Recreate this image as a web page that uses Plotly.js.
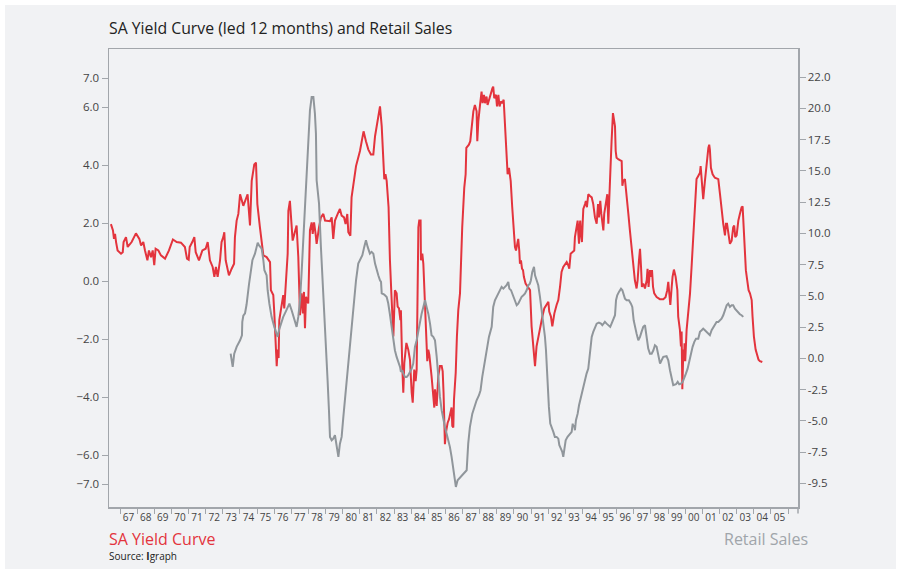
<!DOCTYPE html>
<html><head><meta charset="utf-8">
<script src="https://cdn.plot.ly/plotly-3.0.1.min.js"></script>
<style>
html,body{margin:0;padding:0;background:#ffffff;}
#chart{position:absolute;left:5px;top:5px;width:891px;height:564px;}
</style></head><body><div id="chart"></div>
<script>
// SA Yield Curve (led 12 months), left axis
const yieldYears = [1966.47,1966.59,1966.65,1966.71,1966.77,1966.86,1967.06,1967.16,1967.21,1967.35,1967.45,1967.68,1967.93,1968.13,1968.23,1968.36,1968.46,1968.60,1968.69,1968.81,1968.91,1969.00,1969.08,1969.24,1969.39,1969.63,1969.86,1970.09,1970.31,1970.56,1970.79,1970.91,1971.01,1971.07,1971.22,1971.34,1971.42,1971.61,1971.81,1972.00,1972.12,1972.25,1972.41,1972.51,1972.60,1972.70,1972.84,1972.93,1973.03,1973.09,1973.17,1973.36,1973.52,1973.66,1973.71,1973.81,1973.91,1974.01,1974.20,1974.45,1974.59,1974.69,1974.84,1974.94,1974.98,1975.02,1975.17,1975.27,1975.37,1975.56,1975.76,1975.81,1975.95,1976.01,1976.09,1976.15,1976.20,1976.26,1976.30,1976.44,1976.53,1976.59,1976.69,1976.79,1976.83,1976.92,1977.08,1977.22,1977.31,1977.41,1977.45,1977.51,1977.60,1977.68,1977.74,1977.80,1977.86,1977.99,1978.09,1978.19,1978.25,1978.33,1978.42,1978.48,1978.62,1978.73,1978.87,1978.97,1979.26,1979.36,1979.45,1979.55,1979.71,1979.84,1979.94,1980.08,1980.17,1980.27,1980.33,1980.45,1980.52,1980.66,1980.78,1981.01,1981.15,1981.22,1981.36,1981.50,1981.65,1981.79,1981.89,1982.02,1982.18,1982.28,1982.43,1982.50,1982.57,1982.68,1982.70,1982.76,1982.86,1982.96,1983.05,1983.15,1983.21,1983.29,1983.37,1983.40,1983.48,1983.54,1983.60,1983.68,1983.72,1983.83,1983.93,1984.03,1984.09,1984.18,1984.26,1984.32,1984.38,1984.42,1984.47,1984.55,1984.57,1984.65,1984.71,1984.77,1984.86,1984.94,1985.00,1985.06,1985.19,1985.29,1985.35,1985.39,1985.49,1985.58,1985.68,1985.78,1985.84,1985.89,1985.93,1985.97,1986.03,1986.13,1986.21,1986.30,1986.36,1986.40,1986.46,1986.50,1986.60,1986.67,1986.75,1986.85,1986.91,1986.98,1987.10,1987.18,1987.22,1987.37,1987.45,1987.53,1987.63,1987.72,1987.82,1987.86,1987.92,1988.02,1988.11,1988.17,1988.25,1988.31,1988.40,1988.46,1988.54,1988.66,1988.74,1988.79,1988.85,1988.95,1989.01,1989.09,1989.16,1989.24,1989.32,1989.40,1989.48,1989.53,1989.63,1989.71,1989.81,1989.90,1989.98,1990.06,1990.12,1990.20,1990.25,1990.31,1990.35,1990.41,1990.47,1990.53,1990.58,1990.68,1990.84,1990.94,1991.03,1991.13,1991.23,1991.32,1991.42,1991.56,1991.66,1991.77,1991.91,1992.01,1992.06,1992.16,1992.24,1992.36,1992.49,1992.59,1992.69,1992.78,1992.88,1992.98,1993.08,1993.17,1993.23,1993.31,1993.43,1993.52,1993.56,1993.66,1993.72,1993.76,1993.80,1993.83,1993.87,1993.91,1993.97,1994.01,1994.05,1994.15,1994.20,1994.26,1994.34,1994.44,1994.54,1994.63,1994.73,1994.83,1994.91,1994.96,1995.04,1995.10,1995.16,1995.22,1995.27,1995.35,1995.45,1995.51,1995.57,1995.63,1995.70,1995.78,1995.84,1995.90,1995.94,1995.99,1996.11,1996.29,1996.33,1996.38,1996.48,1996.58,1996.68,1996.77,1996.87,1996.97,1997.06,1997.16,1997.22,1997.30,1997.36,1997.42,1997.47,1997.55,1997.65,1997.75,1997.80,1997.86,1997.94,1998.00,1998.06,1998.12,1998.19,1998.33,1998.52,1998.72,1998.85,1998.95,1999.01,1999.07,1999.13,1999.21,1999.26,1999.34,1999.44,1999.54,1999.59,1999.69,1999.75,1999.79,1999.83,1999.89,1999.93,1999.96,2000.00,2000.08,2000.18,2000.28,2000.37,2000.47,2000.57,2000.66,2000.76,2000.86,2000.90,2000.96,2001.05,2001.15,2001.25,2001.35,2001.40,2001.44,2001.50,2001.60,2001.73,2001.93,2002.03,2002.12,2002.22,2002.32,2002.38,2002.44,2002.51,2002.61,2002.71,2002.80,2002.86,2002.92,2003.00,2003.10,2003.19,2003.29,2003.35,2003.39,2003.49,2003.54,2003.62,2003.70,2003.78,2003.88,2003.93,2004.01,2004.11,2004.21,2004.28,2004.36,2004.50];
const yieldValues = [1.97,1.75,1.46,1.63,1.35,1.06,0.95,1.00,1.35,1.52,1.18,1.35,1.65,1.46,1.23,1.35,1.06,0.72,1.06,0.83,1.06,0.55,1.12,1.06,0.89,0.78,1.06,1.44,1.35,1.33,1.18,0.78,0.74,1.18,1.35,1.52,1.00,0.72,1.06,1.12,1.35,0.72,0.49,0.15,0.49,0.15,0.72,1.35,1.52,1.69,0.72,0.20,0.43,0.60,1.52,2.09,2.32,3.00,2.60,3.00,1.92,3.46,4.03,4.09,3.40,2.66,1.86,1.35,0.89,0.83,0.66,-0.31,-0.48,-1.11,-2.59,-2.93,-2.36,-2.65,-1.34,-0.77,-0.48,-0.94,0.15,0.95,2.43,2.77,1.40,1.75,1.92,0.83,-0.02,-1.17,-0.42,-1.11,-0.37,-1.62,-0.54,-0.77,1.75,2.03,1.63,2.03,1.63,1.29,1.86,2.20,2.32,2.09,2.07,2.20,1.46,2.09,2.32,2.49,2.26,2.20,1.97,2.32,1.69,1.57,2.89,3.57,3.97,4.49,5.00,5.17,4.83,4.54,4.37,4.37,5.00,5.40,6.03,5.34,3.52,3.69,3.46,2.55,1.63,0.72,-0.65,-1.91,-0.31,-0.42,-0.88,-0.94,-1.34,-1.00,-2.93,-3.85,-2.82,-2.36,-2.13,-2.36,-2.71,-3.85,-4.19,-3.05,-3.45,-3.05,-0.88,1.86,2.09,2.09,0.72,0.95,0.60,-0.20,-1.79,-2.76,-2.36,-2.53,-3.28,-3.85,-4.36,-3.73,-4.30,-3.28,-2.93,-2.93,-3.11,-3.85,-5.10,-5.62,-5.22,-4.88,-4.76,-4.53,-4.36,-4.99,-5.05,-4.08,-3.16,-1.91,-1.00,-0.42,0.72,1.86,3.23,3.69,4.60,4.71,4.83,5.40,5.86,6.08,5.86,4.83,5.51,6.08,6.54,6.14,6.43,6.14,6.37,6.08,6.26,6.48,6.65,6.71,6.31,6.43,6.03,6.43,6.03,6.20,6.14,6.26,5.28,4.60,3.69,3.91,3.46,2.55,1.86,1.18,1.06,1.40,1.46,1.06,0.60,0.72,0.43,0.38,0.15,-0.08,-0.20,-0.31,-1.56,-2.36,-2.93,-2.25,-1.91,-1.56,-1.22,-0.94,-0.82,-0.71,-1.05,-1.22,-1.56,-1.11,-0.82,-0.65,-0.20,0.32,0.49,0.60,0.66,0.55,0.43,0.95,1.00,1.06,1.52,1.98,2.09,1.63,1.29,1.86,2.09,1.63,1.35,1.98,2.49,2.66,2.77,2.55,3.00,2.94,2.89,2.66,2.20,1.98,2.66,2.20,2.77,2.32,2.09,1.75,2.32,2.66,3.00,1.98,3.23,3.80,4.83,5.80,5.57,5.34,4.49,4.26,4.20,4.14,3.29,3.46,3.52,3.00,2.32,1.75,1.18,0.49,0.03,-0.25,0.03,0.72,1.12,0.49,-0.20,-0.08,-0.25,0.03,0.43,-0.20,0.38,0.15,0.38,-0.20,-0.42,-0.55,-0.62,-0.62,-0.55,-0.31,-0.02,-0.42,-0.82,-0.20,0.15,0.40,0.15,-0.31,-1.22,-1.68,-2.25,-1.74,-3.73,-2.36,-2.76,-2.14,-2.76,-1.68,-1.11,-0.42,0.49,1.63,2.66,3.52,3.63,3.74,3.97,3.52,2.83,3.46,4.14,4.60,4.71,4.54,3.91,3.69,3.57,3.52,3.00,2.43,1.98,1.58,1.98,1.98,1.63,1.29,1.40,1.86,1.92,1.52,1.58,2.09,2.32,2.55,2.58,2.09,1.18,0.38,0.03,-0.31,-0.42,-0.65,-1.22,-1.91,-2.36,-2.59,-2.71,-2.76,-2.79];

// Retail Sales, right axis
const retailYears = [1973.46,1973.58,1973.67,1973.81,1974.01,1974.12,1974.14,1974.20,1974.30,1974.39,1974.53,1974.65,1974.73,1974.88,1975.04,1975.11,1975.27,1975.37,1975.43,1975.56,1975.62,1975.72,1975.85,1976.01,1976.15,1976.20,1976.28,1976.40,1976.53,1976.67,1976.79,1976.89,1977.02,1977.18,1977.31,1977.41,1977.51,1977.60,1977.70,1977.80,1977.90,1977.99,1978.09,1978.19,1978.29,1978.38,1978.44,1978.48,1978.62,1978.73,1978.87,1979.01,1979.12,1979.20,1979.26,1979.36,1979.45,1979.55,1979.65,1979.75,1979.84,1979.94,1980.04,1980.13,1980.23,1980.33,1980.49,1980.62,1980.78,1980.91,1981.01,1981.15,1981.26,1981.36,1981.46,1981.59,1981.69,1981.79,1981.89,1981.98,1982.08,1982.18,1982.24,1982.28,1982.43,1982.57,1982.66,1982.76,1982.86,1982.96,1983.05,1983.15,1983.25,1983.35,1983.40,1983.48,1983.54,1983.64,1983.74,1983.83,1983.93,1984.03,1984.12,1984.22,1984.32,1984.42,1984.51,1984.61,1984.71,1984.81,1984.90,1985.00,1985.10,1985.19,1985.29,1985.39,1985.49,1985.58,1985.68,1985.78,1985.88,1985.97,1986.07,1986.17,1986.26,1986.36,1986.46,1986.56,1986.61,1986.71,1986.79,1986.91,1987.00,1987.14,1987.24,1987.33,1987.43,1987.57,1987.69,1987.82,1987.96,1988.05,1988.15,1988.25,1988.35,1988.44,1988.54,1988.70,1988.79,1988.89,1988.99,1989.09,1989.18,1989.28,1989.38,1989.48,1989.57,1989.67,1989.73,1989.83,1989.90,1990.06,1990.16,1990.25,1990.35,1990.45,1990.55,1990.64,1990.74,1990.84,1990.93,1990.99,1991.07,1991.17,1991.23,1991.32,1991.42,1991.52,1991.62,1991.71,1991.81,1991.87,1991.91,1991.97,1992.04,1992.12,1992.20,1992.30,1992.39,1992.49,1992.59,1992.65,1992.74,1992.82,1992.88,1992.94,1993.02,1993.13,1993.27,1993.37,1993.43,1993.47,1993.52,1993.56,1993.62,1993.72,1993.80,1993.91,1993.99,1994.05,1994.15,1994.24,1994.34,1994.40,1994.46,1994.54,1994.63,1994.73,1994.83,1994.96,1995.08,1995.16,1995.24,1995.31,1995.41,1995.51,1995.62,1995.70,1995.80,1995.90,1995.96,1996.03,1996.13,1996.25,1996.33,1996.40,1996.48,1996.58,1996.71,1996.83,1996.91,1996.99,1997.06,1997.16,1997.26,1997.36,1997.45,1997.55,1997.65,1997.75,1997.84,1997.94,1998.04,1998.14,1998.23,1998.33,1998.43,1998.53,1998.62,1998.72,1998.91,1999.01,1999.11,1999.21,1999.30,1999.46,1999.56,1999.65,1999.75,1999.85,1999.94,2000.04,2000.14,2000.24,2000.33,2000.43,2000.53,2000.63,2000.76,2000.86,2000.96,2001.05,2001.15,2001.25,2001.35,2001.44,2001.54,2001.64,2001.73,2001.83,2001.93,2002.03,2002.12,2002.22,2002.32,2002.42,2002.51,2002.61,2002.71,2002.80,2002.90,2003.00,2003.10,2003.19,2003.29,2003.39];
const retailValues = [0.37,-0.69,0.37,0.91,1.44,1.84,2.91,3.40,3.60,4.30,5.90,7.04,7.84,8.37,9.25,9.04,8.77,7.84,7.04,6.64,5.44,4.37,3.31,2.51,1.97,1.71,2.24,2.77,3.31,3.71,4.11,4.37,3.84,3.17,2.51,3.31,4.64,6.77,9.44,12.11,13.97,17.17,19.84,20.91,20.91,19.57,17.97,14.24,12.37,8.91,5.44,1.71,-1.76,-4.16,-6.29,-6.56,-6.43,-6.16,-7.09,-7.89,-6.83,-6.29,-4.69,-3.36,-1.76,-0.16,1.97,4.11,6.24,7.57,7.84,8.24,8.91,9.44,8.91,8.37,8.51,8.37,7.57,7.04,6.64,6.24,6.11,5.20,5.10,4.90,4.40,3.50,2.51,1.44,0.64,0.11,-0.29,-0.69,-1.09,-0.96,-1.23,-1.49,-1.49,-1.36,-1.09,-0.83,-0.43,0.91,1.44,2.24,3.04,3.57,4.11,4.64,4.11,3.57,2.77,1.84,1.71,1.44,0.11,-1.76,-3.09,-4.16,-4.96,-5.49,-6.03,-6.56,-7.09,-7.89,-8.96,-9.76,-10.29,-9.76,-9.63,-9.49,-9.36,-9.09,-8.96,-6.83,-5.49,-4.43,-3.89,-3.36,-2.96,-2.56,-1.49,-0.69,0.11,0.91,1.71,2.51,4.11,4.64,4.91,5.17,5.44,5.71,5.57,5.71,5.84,6.11,5.57,5.44,5.17,4.64,4.24,4.37,4.64,4.91,5.04,5.17,5.44,5.84,5.97,6.24,6.91,7.31,6.64,6.24,5.84,4.91,3.84,2.77,1.71,0.64,-0.69,-2.29,-3.89,-5.23,-5.49,-5.89,-6.29,-6.29,-6.43,-6.96,-7.23,-7.49,-7.89,-7.09,-6.56,-6.29,-6.03,-5.89,-5.23,-5.49,-5.36,-5.76,-4.96,-4.43,-3.76,-3.09,-2.69,-2.29,-1.76,-1.23,-0.83,0.11,0.91,1.71,2.11,2.51,2.77,2.85,2.77,2.64,2.77,2.91,2.77,2.64,2.51,2.77,3.17,3.44,4.64,5.04,5.31,5.57,5.44,5.17,4.77,4.64,4.64,4.37,4.11,3.04,2.51,1.97,1.44,1.71,2.11,2.51,2.64,1.44,0.77,0.37,0.37,0.64,1.04,0.91,0.11,-0.43,-0.16,0.11,0.16,-0.16,-0.96,-1.76,-2.16,-2.08,-1.89,-2.08,-2.03,-1.89,-1.63,-1.23,-0.83,-0.16,0.51,0.91,1.31,1.57,1.57,2.11,2.24,2.37,2.24,2.11,1.97,1.84,2.24,2.51,2.77,2.91,2.91,3.04,3.17,3.44,3.84,4.24,4.37,4.11,4.24,4.24,3.97,3.79,3.63,3.52,3.44,3.31];

// Axis labels
const firstYear = 1967;
const yearLabels = ["67","68","69","70","71","72","73","74","75","76","77","78","79","80","81","82","83","84","85","86","87","88","89","90","91","92","93","94","95","96","97","98","99","00","01","02","03","04","05"];
const leftTicks = [-7,-6,-4,-2,0,2,4,6,7];
const rightTickVals = [-10,-7.5,-5,-2.5,0,2.5,5,7.5,10,12.5,15,17.5,20,22.5];
const rightTickText = ["-9.5","-7.5","-5.0","-2.5","0.0","2.5","5.0","7.5","10.0","12.5","15.0","17.5","20.0","22.0"];

const RED = '#e3343d', GREY = '#90969b', AX = '#a2a6ab';

const traces = [
  {x: retailYears, y: retailValues, yaxis: 'y2', type: 'scatter', mode: 'lines', name: 'Retail Sales',
   line: {color: GREY, width: 2}, hoverinfo: 'skip'},
  {x: yieldYears, y: yieldValues, type: 'scatter', mode: 'lines', name: 'SA Yield Curve',
   line: {color: RED, width: 2}, hoverinfo: 'skip'}
];

const layout = {
  width: 891, height: 564,
  paper_bgcolor: '#f1f2f4', plot_bgcolor: '#f1f2f4',
  margin: {l: 104, r: 98, t: 44, b: 62},
  font: {family: 'Open Sans, sans-serif', color: '#333'},
  showlegend: false,
  title: {text: 'SA Yield Curve (led 12 months) and Retail Sales',
          font: {size: 15.8, color: '#222'}, x: 0, xref: 'paper', xanchor: 'left',
          y: 0.959, yref: 'container', yanchor: 'middle'},
  xaxis: {range: [1966.358, 2006.584], tickmode: 'array',
          tickvals: yearLabels.map((_, i) => firstYear + i + 0.5), ticktext: yearLabels,
          ticks: '', showline: true, mirror: true, linecolor: AX, linewidth: 1.5,
          showgrid: false, zeroline: false, tickfont: {size: 10, color: '#444'},
          minor: {tick0: firstYear, dtick: 1, ticks: 'outside', ticklen: 5, tickcolor: AX, tickwidth: 1, showgrid: false}},
  yaxis: {range: [-7.79, 8.01], tickmode: 'array', tickvals: leftTicks, tickformat: '.1f',
          ticks: 'outside', ticklen: 6, tickcolor: AX, tickwidth: 1, showline: true, linecolor: AX, linewidth: 1.5,
          showgrid: false, zeroline: false, tickfont: {size: 11.5, color: '#444'}},
  yaxis2: {overlaying: 'y', side: 'right', range: [-11.9, 24.74], tickmode: 'array',
           tickvals: rightTickVals, ticktext: rightTickText,
           ticks: 'outside', ticklen: 6, tickcolor: AX, tickwidth: 1, showline: true, linecolor: AX, linewidth: 1.5,
           showgrid: false, zeroline: false, tickfont: {size: 11.5, color: '#444'}},
  shapes: [{type: 'line', xref: 'paper', yref: 'paper', x0: 1, x1: 1, y0: 0, y1: -0.014,
            line: {color: AX, width: 1.5}}],
  annotations: [
    {text: 'SA Yield Curve', xref: 'paper', yref: 'paper', x: -0.003, y: -0.07, xanchor: 'left', yanchor: 'middle',
     showarrow: false, font: {size: 16, color: RED}},
    {text: 'Source: <b>I</b>graph', xref: 'paper', yref: 'paper', x: -0.003, y: -0.107, xanchor: 'left', yanchor: 'middle',
     showarrow: false, font: {size: 10, color: '#222'}},
    {text: 'Retail Sales', xref: 'paper', yref: 'paper', x: 1.018, y: -0.07, xanchor: 'right', yanchor: 'middle',
     showarrow: false, font: {size: 16, color: '#a0a5aa'}}
  ]
};

Plotly.newPlot('chart', traces, layout, {displayModeBar: false, staticPlot: true});
</script></body></html>
